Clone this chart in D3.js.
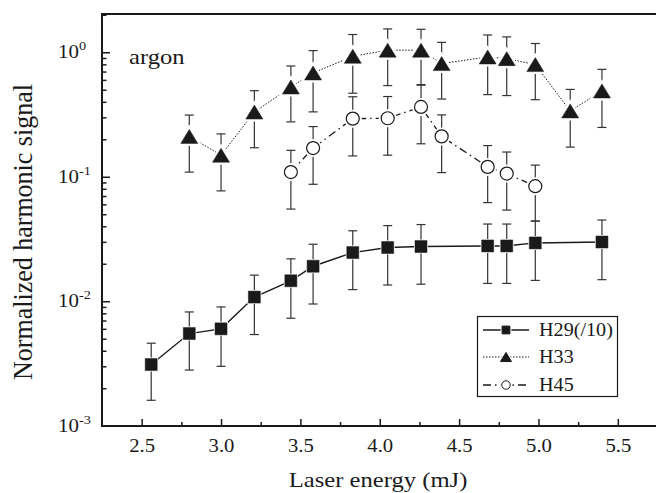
<!DOCTYPE html>
<html>
<head>
<meta charset="utf-8">
<script src="https://cdn.jsdelivr.net/npm/d3@7"></script>
</head>
<body style="margin:0;background:#fff">
<svg width="656" height="493"></svg>
<script>
// H29 (divided by 10)
var energy29 = [2.56, 2.80, 3.00, 3.21, 3.44, 3.58, 3.83, 4.05, 4.26, 4.68, 4.80, 4.98, 5.40];
var signal29 = [0.0031, 0.0055, 0.0060, 0.0108, 0.0146, 0.0191, 0.0246, 0.0270, 0.0275, 0.0278, 0.0278, 0.0294, 0.0299];
var error29 = [0.0015, 0.0027, 0.0030, 0.0054, 0.0073, 0.0096, 0.0122, 0.0135, 0.0138, 0.0139, 0.0139, 0.0147, 0.0150];
// H33
var energy33 = [2.80, 3.00, 3.21, 3.44, 3.58, 3.83, 4.05, 4.26, 4.39, 4.68, 4.80, 4.98, 5.20, 5.40];
var signal33 = [0.211, 0.149, 0.331, 0.526, 0.682, 0.929, 1.04, 1.04, 0.811, 0.917, 0.889, 0.796, 0.338, 0.489];
var error33 = [0.102, 0.072, 0.16, 0.25, 0.35, 0.46, 0.50, 0.49, 0.39, 0.46, 0.44, 0.38, 0.165, 0.24];
// H45
var energy45 = [3.44, 3.58, 3.83, 4.05, 4.26, 4.39, 4.68, 4.80, 4.98];
var signal45 = [0.109, 0.170, 0.293, 0.295, 0.364, 0.211, 0.120, 0.106, 0.084];
var error45 = [0.054, 0.083, 0.146, 0.146, 0.18, 0.103, 0.058, 0.052, 0.040];

var seriesNames = ["H29(/10)", "H33", "H45"];
var xTicks = [2.5, 3.0, 3.5, 4.0, 4.5, 5.0, 5.5];
var xMinorTicks = [2.75, 3.25, 3.75, 4.25, 4.75, 5.25];
var yTicks = [1e-3, 1e-2, 1e-1, 1];
var yTickExp = ["-3", "-2", "-1", "0"];

var serif = "Liberation Serif";
var ink = "#1a1a1a";
var svg = d3.select("svg").attr("font-family", serif);
var x = d3.scaleLinear().domain([2.25, 5.75]).range([102, 657.5]);
var y = d3.scaleLog().domain([1e-3, 2.03]).range([425.7, 14]);

var yMinor = [];
yTicks.forEach(function(d) {
	for (var k = 2; k < 10; k++) if (k * d < 2.03) yMinor.push(k * d);
});

function build(xs, ys, es) {
	return xs.map(function(v, i) { return { x: v, y: ys[i], e: es[i] }; });
}
var series = [
	{ name: seriesNames[0], values: build(energy29, signal29, error29), shape: "square", dash: null, width: 1.4 },
	{ name: seriesNames[1], values: build(energy33, signal33, error33), shape: "triangle", dash: "1.5,1.5", width: 1 },
	{ name: seriesNames[2], values: build(energy45, signal45, error45), shape: "circle", dash: "8,4,1.5,4", width: 1.3 }
];

// axes
var gx = svg.append("g").attr("transform", "translate(0,426)");
gx.call(d3.axisBottom(x).tickValues(xTicks).tickSize(-7).tickPadding(13).tickFormat(d3.format(".1f")));
gx.append("g").call(d3.axisBottom(x).tickValues(xMinorTicks).tickSize(-4).tickFormat(""));
gx.selectAll(".domain").remove();
gx.attr("font-family", serif);
gx.selectAll("line").attr("stroke", ink).attr("stroke-width", 1.5);
gx.selectAll("text").attr("font-size", 18).attr("font-family", serif)
	.attr("fill", ink).attr("transform", "scale(1.15,1)");

var gy = svg.append("g").attr("transform", "translate(102,0)");
gy.call(d3.axisLeft(y).tickValues(yTicks).tickSize(-8).tickFormat(""));
gy.append("g").call(d3.axisLeft(y).tickValues(yMinor).tickSize(-4.5).tickFormat(""));
gy.selectAll(".domain").remove();
gy.selectAll("line").attr("stroke", ink).attr("stroke-width", 1.5);

// frame lines: left, bottom, top
svg.append("path")
	.attr("d", "M656,14H102V426H656")
	.attr("fill", "none").attr("stroke", ink).attr("stroke-width", 2);

// y tick labels 10^n
yTicks.forEach(function(d, i) {
	var t = svg.append("text")
		.attr("transform", "translate(58," + (y(d) + 6) + ") scale(1.1,1)")
		.attr("font-family", serif).attr("fill", ink).attr("font-size", 19);
	t.append("tspan").text("10");
	t.append("tspan").attr("font-size", 13).attr("dy", -8).text(yTickExp[i]);
});

// axis titles
svg.append("text")
	.attr("transform", "translate(378,487) scale(1.12,1)")
	.attr("font-family", serif).attr("fill", ink)
	.attr("text-anchor", "middle").attr("font-size", 22)
	.text("Laser energy (mJ)");
svg.append("text")
	.attr("transform", "translate(32,232) rotate(-90) scale(1,1.07)")
	.attr("font-family", serif).attr("fill", ink)
	.attr("text-anchor", "middle").attr("font-size", 26)
	.text("Normalized harmonic signal");

svg.append("text")
	.attr("transform", "translate(129,64) scale(1.12,1)")
	.attr("font-family", serif).attr("fill", ink)
	.attr("font-size", 22)
	.text("argon");

function markerPath(shape, s) {
	if (shape === "triangle") return "M0," + (-7 * s) + "L" + (8.5 * s) + "," + (7 * s) + "L" + (-8.5 * s) + "," + (7 * s) + "Z";
	if (shape === "square") return "M" + (-6 * s) + "," + (-6 * s) + "h" + (12 * s) + "v" + (12 * s) + "h" + (-12 * s) + "Z";
	return d3.symbol().type(d3.symbolCircle).size(Math.PI * 6.5 * 6.5 * s * s)();
}

var line = d3.line()
	.x(function(d) { return x(d.x); })
	.y(function(d) { return y(d.y); });

series.forEach(function(s) {
	var g = svg.append("g");
	// error bars
	var eb = g.selectAll(".err").data(s.values).enter().append("g").attr("class", "err")
		.attr("stroke", "#333").attr("stroke-width", 1.2);
	eb.append("line")
		.attr("x1", function(d) { return x(d.x); }).attr("x2", function(d) { return x(d.x); })
		.attr("y1", function(d) { return y(d.y + d.e); }).attr("y2", function(d) { return y(d.y - d.e); });
	eb.append("line")
		.attr("x1", function(d) { return x(d.x) - 4.5; }).attr("x2", function(d) { return x(d.x) + 4.5; })
		.attr("y1", function(d) { return y(d.y + d.e); }).attr("y2", function(d) { return y(d.y + d.e); });
	eb.append("line")
		.attr("x1", function(d) { return x(d.x) - 4.5; }).attr("x2", function(d) { return x(d.x) + 4.5; })
		.attr("y1", function(d) { return y(d.y - d.e); }).attr("y2", function(d) { return y(d.y - d.e); });
	// connecting line
	g.append("path").datum(s.values)
		.attr("d", line).attr("fill", "none").attr("stroke", ink)
		.attr("stroke-width", s.width).attr("stroke-dasharray", s.dash);
	// halo + marker
	var m = g.selectAll(".pt").data(s.values).enter().append("g").attr("class", "pt")
		.attr("transform", function(d) { return "translate(" + x(d.x) + "," + y(d.y) + ")"; });
	m.append("path").attr("d", markerPath(s.shape, 1)).attr("fill", "none")
		.attr("stroke", "#fff").attr("stroke-width", s.shape === "square" ? 2 : 5);
	m.append("path").attr("d", markerPath(s.shape, 1))
		.attr("fill", s.shape === "circle" ? "#fff" : ink)
		.attr("stroke", ink).attr("stroke-width", s.shape === "circle" ? 1.2 : 0.5);
});

// legend
var legend = svg.append("g");
legend.append("rect").attr("x", 477.5).attr("y", 316.5).attr("width", 140).attr("height", 80)
	.attr("fill", "#fff").attr("stroke", ink).attr("stroke-width", 1.2);
var rowY = [330, 357, 385];
series.forEach(function(s, i) {
	var r = legend.append("g").attr("transform", "translate(0," + rowY[i] + ")");
	r.append("line").attr("x1", 483).attr("x2", 529).attr("y1", 0).attr("y2", 0)
		.attr("stroke", ink).attr("stroke-width", s.width).attr("stroke-dasharray", s.dash);
	r.append("path").attr("transform", "translate(506,0)").attr("d", markerPath(s.shape, 0.65))
		.attr("fill", "#fff").attr("stroke", "#fff").attr("stroke-width", 3);
	r.append("path").attr("transform", "translate(506,0)").attr("d", markerPath(s.shape, 0.65))
		.attr("fill", s.shape === "circle" ? "#fff" : ink)
		.attr("stroke", ink).attr("stroke-width", 1);
	r.append("text").attr("transform", "translate(539,6) scale(1.12,1)")
		.attr("font-family", serif).attr("fill", ink)
		.attr("font-size", 18).text(s.name);
});
</script>
</body>
</html>
